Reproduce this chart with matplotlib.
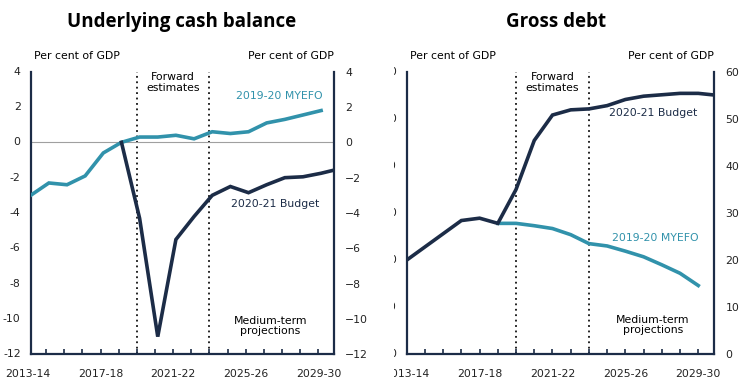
import matplotlib
matplotlib.use("Agg")
import matplotlib.pyplot as plt
import matplotlib.transforms as mtransforms
from matplotlib.transforms import Bbox, TransformedBbox

plt.rcParams["font.family"] = ["DejaVu Sans"]

# financial years, index 0 = 2013-14
YEARS = ["2013-14", "2014-15", "2015-16", "2016-17", "2017-18", "2018-19",
         "2019-20", "2020-21", "2021-22", "2022-23", "2023-24", "2024-25",
         "2025-26", "2026-27", "2027-28", "2028-29", "2029-30", "2030-31"]
XLABELS = ["2013-14", "2017-18", "2021-22", "2025-26", "2029-30"]

# underlying cash balance, per cent of GDP
ucb_myefo = [-3.0, -2.3, -2.4, -1.9, -0.6, 0.0, 0.3, 0.3, 0.4, 0.2, 0.6,
             0.5, 0.6, 1.1, 1.3, 1.55, 1.8]
ucb_budget = [0.0, -4.3, -11.0, -5.5, -4.2, -3.0, -2.5, -2.85, -2.4, -2.0,
              -1.95, -1.75, -1.5]  # from 2018-19

# gross debt, per cent of GDP
debt_budget = [20.0, 22.8, 25.6, 28.4, 28.9, 27.8, 35.0, 45.4, 50.8, 51.9,
               52.1, 52.8, 54.1, 54.8, 55.1, 55.4, 55.4, 55.0]
debt_myefo = [27.8, 27.8, 27.3, 26.7, 25.4, 23.5, 23.0, 21.9, 20.7, 19.0,
              17.2, 14.6]  # from 2018-19

NAVY = "#1c2c47"
TEAL = "#3192ab"
FS = 7.8

W, H = 745, 389
fig = plt.figure(figsize=(W / 100, H / 100), dpi=100)


def fx(px):
    return px / W


def fy(py):
    return 1 - py / H


ax1 = fig.add_axes([fx(30.7), fy(354.3), fx(334 - 30.7), fy(71.7) - fy(354.3)])
ax2 = fig.add_axes([fx(406.7), fy(354.3), fx(714.3 - 406.7), fy(71.7) - fy(354.3)])


def style_axes(ax, xmax, ylim, yticks, tick_shift, clip_left=None):
    ax.set_xlim(0, xmax)
    ax.set_ylim(*ylim)
    ax.spines["top"].set_visible(False)
    for s in ["left", "right", "bottom"]:
        ax.spines[s].set_color(NAVY)
        ax.spines[s].set_linewidth(1.6)
    # small inward ticks on the bottom axis, one per year
    ax.set_xticks([i - tick_shift for i in range(1, 17)])
    ax.tick_params(axis="x", direction="in", length=3.5, width=1.2,
                   color=NAVY, labelbottom=False)
    ax.set_yticks(yticks)
    ax.tick_params(axis="y", length=0, labelleft=False, labelright=True,
                   pad=8, labelsize=FS, labelcolor="#222222")
    # left-hand labels drawn by hand so they can be clipped like the original
    clipbox = None
    if clip_left is not None:
        clipbox = TransformedBbox(Bbox([[clip_left / W, 0], [1, 1]]), fig.transFigure)
    ytrans = mtransforms.offset_copy(ax.get_yaxis_transform(), fig=fig, x=-10, units="dots")
    for v in yticks:
        t = ax.text(0, v, f"{v:g}", transform=ytrans, ha="right", va="center",
                    fontsize=FS, color="#222222")
        if clipbox is not None:
            t.set_clip_box(clipbox)
            t.set_clip_on(True)
    xtrans = mtransforms.blended_transform_factory(ax.transData, ax.transAxes)
    for lab in XLABELS:
        i = YEARS.index(lab) - tick_shift
        t = ax.text(i, -0.07, lab, transform=xtrans, ha="center", va="center",
                    fontsize=FS, color="#222222")
        if clipbox is not None:
            t.set_clip_box(clipbox)
            t.set_clip_on(True)
    # forward estimates band edges
    for xv in (6 - tick_shift, 10 - tick_shift):
        ax.axvline(xv, color="#111111", lw=1.3, ls=(0, (1, 2.0)), zorder=1)
    ax.text(0.01, 1.055, "Per cent of GDP", transform=ax.transAxes, ha="left",
            va="center", fontsize=FS)
    ax.text(1.0, 1.055, "Per cent of GDP", transform=ax.transAxes, ha="right",
            va="center", fontsize=FS)
    ax.text(8 - tick_shift, 0.962, "Forward\nestimates", ha="center", va="center",
            fontsize=FS, transform=xtrans, linespacing=1.05,
            bbox=dict(facecolor="white", edgecolor="none", pad=1))


# ---- underlying cash balance ----
style_axes(ax1, 16.71, (-12, 4), list(range(-12, 5, 2)), 0.15)
ax1.axhline(0, color="#a0a0a0", lw=0.8, zorder=1)
ax1.plot(range(len(ucb_myefo)), ucb_myefo, color=TEAL, lw=2.6, zorder=3,
         solid_joinstyle="miter")
ax1.plot(range(5, 5 + len(ucb_budget)), ucb_budget, color=NAVY, lw=2.6, zorder=4,
         solid_joinstyle="miter")
ax1.text(13.7, 2.6, "2019-20 MYEFO", color=TEAL, fontsize=FS, ha="center", va="center")
ax1.text(13.46, -3.5, "2020-21 Budget", color=NAVY, fontsize=FS, ha="center", va="center")
ax1.text(13.2, -10.4, "Medium-term\nprojections", fontsize=FS, ha="center",
         va="center", linespacing=1.05)

# ---- gross debt ----
style_axes(ax2, 16.88, (0, 60), list(range(0, 61, 10)), 0.0, clip_left=394)
ax2.plot(range(len(debt_budget)), debt_budget, color=NAVY, lw=2.6, zorder=4,
         solid_joinstyle="miter")
ax2.plot(range(5, 5 + len(debt_myefo)), debt_myefo, color=TEAL, lw=2.6, zorder=3,
         solid_joinstyle="miter")
ax2.text(13.55, 51.2, "2020-21 Budget", color=NAVY, fontsize=FS, ha="center", va="center")
ax2.text(13.63, 24.75, "2019-20 MYEFO", color=TEAL, fontsize=FS, ha="center", va="center")
ax2.text(13.5, 6.2, "Medium-term\nprojections", fontsize=FS, ha="center",
         va="center", linespacing=1.05)

fig.text(fx(182), fy(22), "Underlying cash balance", ha="center", va="center",
         fontsize=13.5, fontweight="bold", family="Open Sans")
fig.text(fx(556), fy(22), "Gross debt", ha="center", va="center",
         fontsize=13.5, fontweight="bold", family="Open Sans")

fig.savefig("out.png", dpi=100)
